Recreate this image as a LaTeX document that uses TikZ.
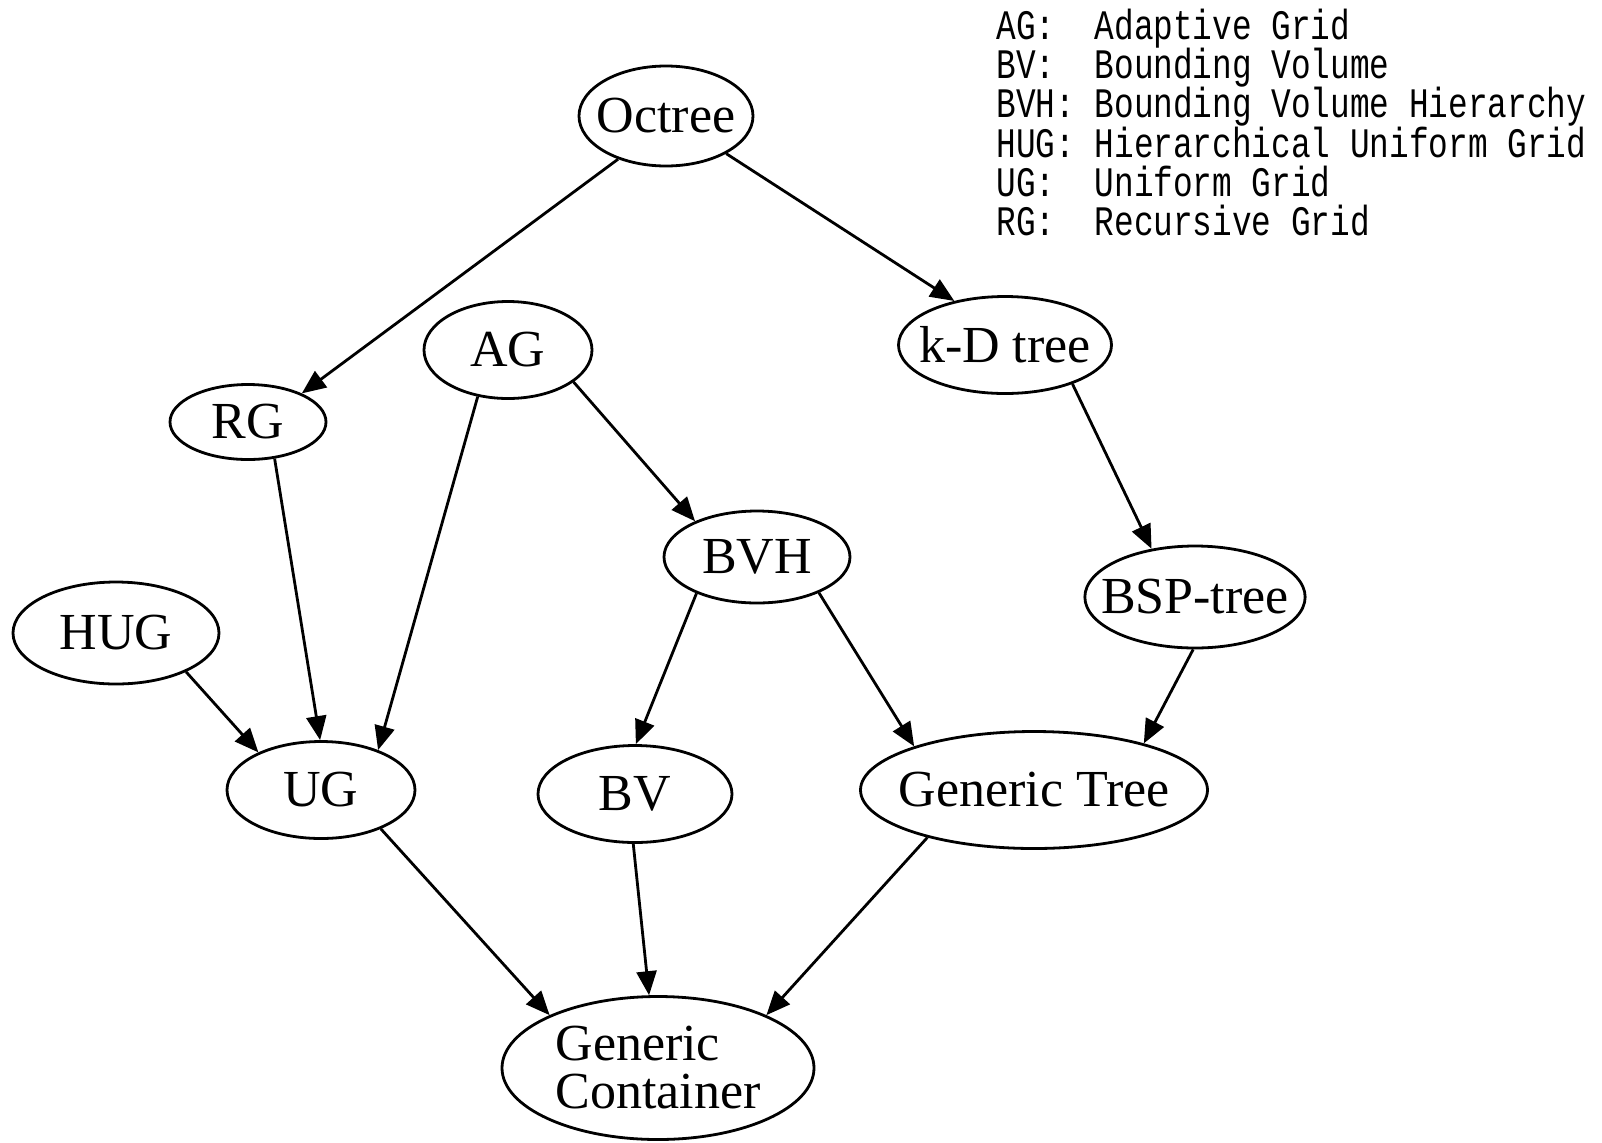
\documentclass[tikz,border=0pt]{standalone}
\usepackage{fontspec}
\setmainfont{Liberation Serif}
\newfontfamily\legendfont[FakeStretch=0.78]{Liberation Mono}
\usetikzlibrary{shapes.geometric, arrows.meta}

\begin{document}
\begin{tikzpicture}[
  x=0.5pt, y=-0.5pt,
  blob/.style={ellipse, draw=black, line width=1.4pt, inner xsep=-8pt, inner ysep=0pt, align=center, font=\fontsize{26}{23}\selectfont},
  arrow/.style={line width=1.4pt, -{Triangle[length=12pt, width=10pt]}}
]
\useasboundingbox (0,0) rectangle (1602,1142);

\node (octree) [blob, minimum width=87pt, minimum height=50pt] at (666,116) {Octree};
\node (kd) [blob, minimum width=106.5pt, minimum height=48.5pt] at (1005,345) {k-D tree};
\node (ag) [blob, minimum width=84pt, minimum height=48.5pt] at (508,350) {AG};
\node (rg) [blob, minimum width=78pt, minimum height=37.5pt] at (248,422) {RG};
\node (bvh) [blob, minimum width=93pt, minimum height=46pt] at (757,557) {BVH};
\node (bsp) [blob, minimum width=109.5pt, minimum height=51pt] at (1195,597) {BSP-tree};
\node (hug) [blob, minimum width=103pt, minimum height=51pt] at (116,633) {HUG};
\node (ug) [blob, minimum width=94pt, minimum height=48.5pt] at (321,790) {UG};
\node (bv) [blob, minimum width=97pt, minimum height=48.5pt] at (635,794) {BV};
\node (gt) [blob, minimum width=173.5pt, minimum height=58.5pt] at (1034,790) {Generic Tree};
\node (gc) [blob, minimum width=156pt, minimum height=71.5pt, align=left, font=\fontsize{26}{24}\selectfont] at (658,1068) {Generic\\Container};

% legend
\node (legend) [anchor=base west, inner sep=0pt, font=\legendfont\fontsize{21}{19.75}\selectfont] at (996,39) {%
  \begin{tabular}[t]{@{}l@{~}l@{}}
  AG: & Adaptive Grid\\[-1.45pt]
  BV: & Bounding Volume\\[-1.45pt]
  BVH: & Bounding Volume Hierarchy\\[-1.45pt]
  HUG: & Hierarchical Uniform Grid\\[-1.45pt]
  UG: & Uniform Grid\\[-1.45pt]
  RG: & Recursive Grid
  \end{tabular}};

\draw [arrow] (octree.222) -- (rg.28);
\draw [arrow] (octree.328) -- (kd.139);
\draw [arrow] (ag.334) -- (bvh.150);
\draw [arrow] (ag.237) -- (ug.35);
\draw [arrow] (rg.306) -- (ug.91);
\draw [arrow] (hug.331) -- (ug.149);
\draw [arrow] (kd.330) -- (bsp.132);
\draw [arrow] (bsp.268) -- (gt.23);
\draw [arrow] (bvh.211) -- (bv.89);
\draw [arrow] (bvh.330) -- (gt.160);
\draw [arrow] (ug.327) -- (gc.154);
\draw [arrow] (bv.268) -- (gc.97);
\draw [arrow] (gt.204) -- (gc.26);

\end{tikzpicture}
\end{document}
